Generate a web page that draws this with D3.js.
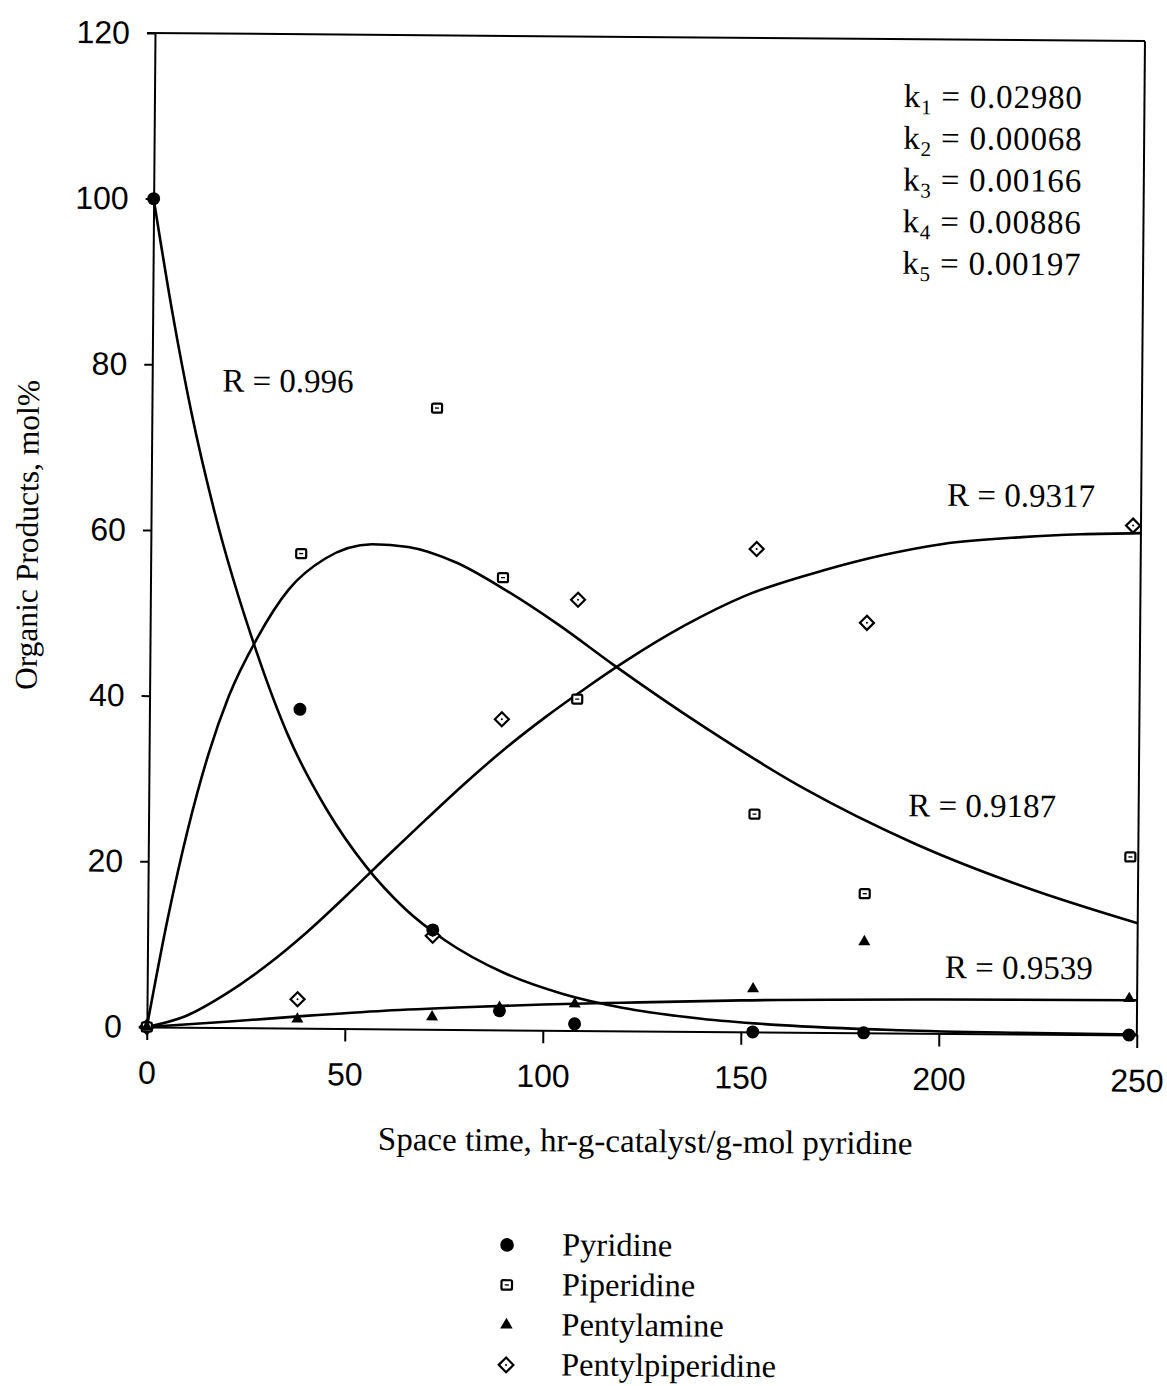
<!DOCTYPE html>
<html lang="en">
<head>
<meta charset="UTF-8">
<title>Organic Products vs Space time</title>
<script src="https://d3js.org/d3.v7.min.js"></script>
<style>
  body { margin: 0; background: #fff; }
  svg { display: block; }
  .axis text { font-family: "Liberation Sans", Arial, sans-serif; font-size: 32px; fill: #000; }
  .serif { font-family: "Liberation Serif", "Times New Roman", serif; fill: #000; }
</style>
</head>
<body>
<div id="chart"></div>
<script>
// measured samples (space time, hr-g-catalyst/g-mol pyridine)
const spaceTime = [0, 38, 72, 89, 108, 153, 181, 248];
const pyridine = [100, 38.5, 12, 2.3, 0.8, 0, 0, 0];
const piperidine = [0, 57.3, 75, 54.6, 40, 26.3, 16.8, 21.5];
const pentylamine = [0, 1.1, 1.5, 2.7, 3.2, 5.2, 11, 4.4];
const pentylpiperidine = [0, 3.5, 11.3, 37.5, 52, 58.3, 49.5, 61.5];

// fitted model curves
const pyridineFitX = [0, 5, 10, 16, 27, 35, 45, 55, 65, 75, 90, 105, 120, 140, 160, 190, 220, 250];
const pyridineFitY = [100, 86.2, 74.2, 62.3, 45.3, 35.4, 26.4, 19.6, 14.5, 10.8, 6.9, 4.4, 2.8, 1.55, 0.85, 0.35, 0.15, 0.06];
const piperidineFitX = [0, 5, 10, 15, 20, 27, 35, 44, 56, 65, 77, 90, 103, 117, 140, 166, 193, 223, 250];
const piperidineFitY = [0, 13, 24, 33, 40, 47, 53, 56.7, 58.5, 58.2, 56.4, 53, 49, 44.2, 36.8, 29.3, 23, 17.5, 13.5];
const pentylamineFitX = [0, 20, 40, 60, 80, 100, 120, 150, 200, 250];
const pentylamineFitY = [0, 0.7, 1.5, 2.2, 2.7, 3.1, 3.4, 3.8, 4.1, 4.2];
const pentylpipFitX = [0, 10, 20, 30, 40, 50, 60, 70, 80, 90, 100, 110, 120, 135, 150, 170, 185, 200, 220, 235, 250];
const pentylpipFitY = [0, 1.4, 4.1, 7.5, 11.5, 16, 20.7, 25.3, 29.8, 34, 37.8, 41.3, 44.6, 49, 52.6, 55.8, 57.7, 59.1, 60, 60.4, 60.6];

const seriesNames = ["Pyridine", "Piperidine", "Pentylamine", "Pentylpiperidine"];
const xTicks = [0, 50, 100, 150, 200, 250];
const yTicks = [0, 20, 40, 60, 80, 100, 120];
const fitLabels = ["R = 0.996", "R = 0.9317", "R = 0.9187", "R = 0.9539"];
const rateNames = ["1", "2", "3", "4", "5"];
const rateValues = ["0.02980", "0.00068", "0.00166", "0.00886", "0.00197"];

// label anchors, in data units
const fitLabelPos = [[17.7, 76.8], [201, 63.7], [191.8, 26.2], [201.4, 6.7]];
const ratePos = [189.2, 111.8];

const width = 1167, height = 1386;

const svg = d3.select("#chart").append("svg")
    .attr("width", width)
    .attr("height", height);

// the scanned figure is tilted a touch clockwise
const g = svg.append("g").attr("transform", "rotate(0.47,155,33)");

const x = d3.scaleLinear().domain([0, 250]).range([155, 1145]);
const y = d3.scaleLinear().domain([0, 120]).range([1027, 33]);

// frame: top and right edges
g.append("line")
    .attr("x1", x(0) - 8).attr("x2", x(250))
    .attr("y1", y(120)).attr("y2", y(120))
    .attr("stroke", "#000").attr("stroke-width", 2);
g.append("line")
    .attr("x1", x(250)).attr("x2", x(250))
    .attr("y1", y(120)).attr("y2", y(0))
    .attr("stroke", "#000").attr("stroke-width", 2);

const xAxis = g.append("g")
    .attr("class", "axis")
    .attr("transform", "translate(0," + y(0) + ")")
    .call(d3.axisBottom(x).tickValues(xTicks).tickSize(13).tickSizeOuter(0).tickPadding(21));

const yAxis = g.append("g")
    .attr("class", "axis")
    .attr("transform", "translate(" + x(0) + ",0)")
    .call(d3.axisLeft(y).tickValues(yTicks).tickSize(8).tickSizeOuter(0).tickPadding(17));

g.selectAll(".axis path, .axis line").attr("stroke", "#000").attr("stroke-width", 2);

// fitted curves
const line = d3.line()
    .x(d => x(d[0]))
    .y(d => y(d[1]))
    .curve(d3.curveMonotoneX);

const fits = [
    [pyridineFitX, pyridineFitY],
    [piperidineFitX, piperidineFitY],
    [pentylamineFitX, pentylamineFitY],
    [pentylpipFitX, pentylpipFitY]
];

fits.forEach(f => {
    g.append("path")
        .datum(f[0].map((v, i) => [v, f[1][i]]))
        .attr("fill", "none")
        .attr("stroke", "#000")
        .attr("stroke-width", 2.6)
        .attr("d", line);
});

// marker drawing
function drawMarker(sel, kind, scale) {
    const s = scale || 1;
    if (kind === 0) {
        sel.append("circle").attr("r", 6.5 * s).attr("fill", "#000");
    } else if (kind === 1) {
        sel.append("rect")
            .attr("x", -5 * s).attr("y", -4.5 * s)
            .attr("width", 10 * s).attr("height", 9 * s)
            .attr("rx", 1.5)
            .attr("fill", "#fff").attr("stroke", "#000").attr("stroke-width", 2.2);
        sel.append("line")
            .attr("x1", -2 * s).attr("x2", 2 * s)
            .attr("stroke", "#000").attr("stroke-width", 1.4);
    } else if (kind === 2) {
        sel.append("path")
            .attr("d", d3.symbol(d3.symbolTriangle, 62 * s * s)())
            .attr("fill", "#000");
    } else {
        const r = 7 * s;
        sel.append("path")
            .attr("d", "M0," + (-r) + "L" + r + ",0L0," + r + "L" + (-r) + ",0Z")
            .attr("fill", "#fff").attr("stroke", "#000").attr("stroke-width", 2.2);
        sel.append("circle").attr("r", 1).attr("fill", "#000");
    }
}

const measured = [pyridine, piperidine, pentylamine, pentylpiperidine];
[3, 1, 2, 0].forEach(k => {
    g.append("g")
        .selectAll("g")
        .data(spaceTime.map((t, i) => [t, measured[k][i]]))
        .join("g")
        .attr("transform", d => "translate(" + x(d[0]) + "," + y(d[1]) + ")")
        .each(function () { drawMarker(d3.select(this), k); });
});

// axis titles
g.append("text")
    .attr("class", "serif")
    .attr("x", 387).attr("y", 1148)
    .attr("font-size", 33)
    .text("Space time, hr-g-catalyst/g-mol pyridine");

g.append("text")
    .attr("class", "serif")
    .attr("transform", "translate(42,536) rotate(-90)")
    .attr("text-anchor", "middle")
    .attr("font-size", 31.5)
    .text("Organic Products, mol%");

// R annotations
g.selectAll(".rlab")
    .data(fitLabels)
    .join("text")
    .attr("class", "serif rlab")
    .attr("x", (d, i) => x(fitLabelPos[i][0]))
    .attr("y", (d, i) => y(fitLabelPos[i][1]))
    .attr("font-size", 33)
    .text(d => d);

// rate constants
const kText = g.selectAll(".klab")
    .data(rateValues)
    .join("text")
    .attr("class", "serif klab")
    .attr("x", x(ratePos[0]))
    .attr("y", (d, i) => y(ratePos[1]) + i * 41.7)
    .attr("font-size", 33)
    .attr("letter-spacing", 0.8);
kText.append("tspan").text("k");
kText.append("tspan").attr("font-size", 21).attr("dy", 7).text((d, i) => rateNames[i]);
kText.append("tspan").attr("dy", -7).text(d => " = " + d);

// legend
const legend = g.append("g").attr("transform", "translate(517,1242)");
seriesNames.forEach((name, i) => {
    const row = legend.append("g").attr("transform", "translate(0," + i * 40 + ")");
    drawMarker(row.append("g"), i, 1.05);
    row.append("text")
        .attr("class", "serif")
        .attr("x", 55).attr("y", 10)
        .attr("font-size", 32.5)
        .text(name);
});
</script>
</body>
</html>
